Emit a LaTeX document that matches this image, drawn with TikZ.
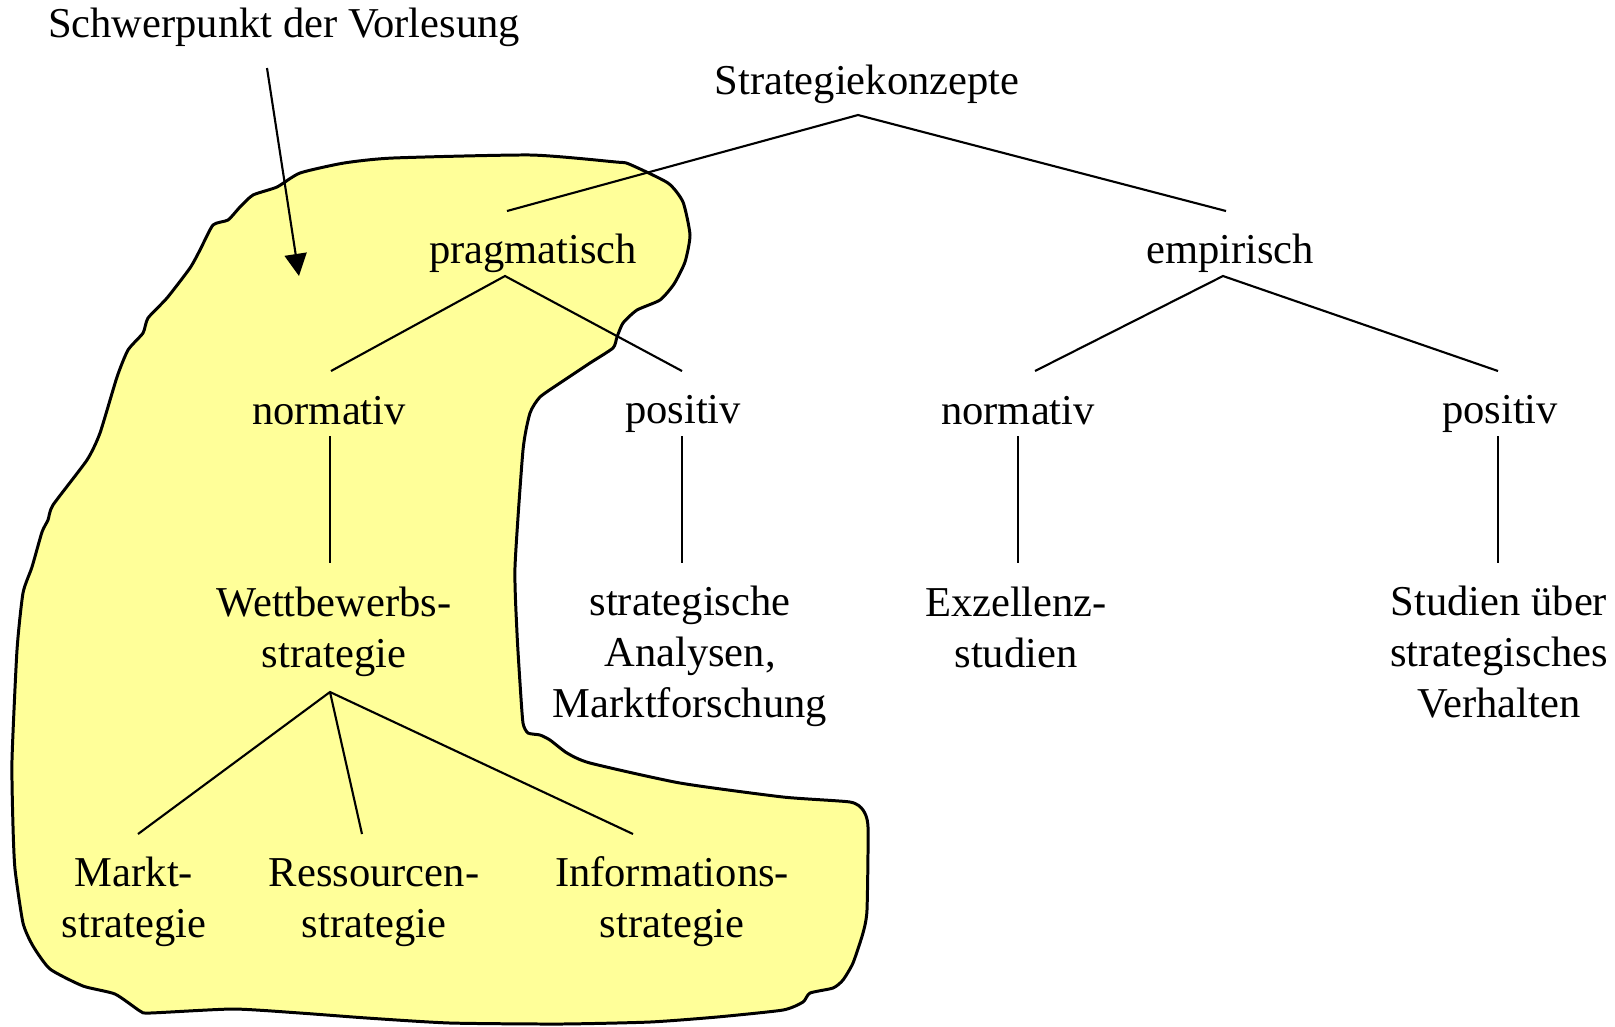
\documentclass[tikz,border=0pt]{standalone}
\usepackage{fontspec}
\setmainfont{Liberation Serif}
\usetikzlibrary{arrows.meta}
\definecolor{focusfill}{RGB}{255,255,153}
\begin{document}
\begin{tikzpicture}[x=0.01cm,y=-0.01cm,
  lbl/.style={inner sep=0pt, outer sep=0pt, anchor=base, align=center,
    font=\fontsize{12.1pt}{14.4pt}\selectfont},
  link/.style={line width=0.6pt},
  focus/.style={draw=black, line width=0.85pt, fill=focusfill, line join=round}]
\useasboundingbox (0,0) rectangle (1615,1026);

% highlighted area of the lecture
\draw[focus] plot[smooth cycle, tension=0.35] coordinates {
  (213,225) (228,220) (240,207) (253,195) (277,187) (300,173) (344,163)
  (393,158) (531,155) (616,162) (629,164) (668,183) (683,202) (690,235)
  (685,262) (674,284) (660,300) (637,310) (623,323) (617,337) (613,348)
  (590,363) (560,383) (540,397) (530,413) (523,450) (515,567) (517,633)
  (520,683) (523,723) (528,733) (540,735) (550,740) (567,753) (590,763)
  (680,783) (783,797) (850,802) (863,810) (868,827) (867,910) (863,933)
  (853,963) (843,980) (833,988) (810,993) (803,1002) (783,1010) (717,1017)
  (650,1022) (560,1024) (450,1023) (367,1018) (300,1013) (233,1009)
  (150,1013) (140,1011) (115,994) (83,986) (50,969) (33,946) (23,923)
  (15,869) (13,826) (12,760) (17,650) (23,593) (32,567) (42,532) (48,520)
  (53,505) (87,460) (100,433) (117,377) (128,350) (143,333) (148,318)
  (167,298) (190,268) (200,250)};

% labels (multi-line labels are anchored at the baseline of their last line)
\node[lbl] (focusnote) at (284,37)  {Schwerpunkt der Vorlesung};
\node[lbl] (root)  at (867,94)   {Strategiekonzepte};
\node[lbl] (prag)  at (533,263)  {pragmatisch};
\node[lbl] (emp)   at (1230,263) {empirisch};
\node[lbl] (pnorm) at (329,424)  {normativ};
\node[lbl] (ppos)  at (683,423)  {positiv};
\node[lbl] (enorm) at (1018,424) {normativ};
\node[lbl] (epos)  at (1500,423) {positiv};
\node[lbl] (wett)  at (334,667)  {Wettbewerbs-\\strategie};
\node[lbl] (anal)  at (690,717)  {strategische\\Analysen,\\Marktforschung};
\node[lbl] (exz)   at (1016,667) {Exzellenz-\\studien};
\node[lbl] (stud)  at (1499,717) {Studien über\\strategisches\\Verhalten};
\node[lbl] (markt) at (134,937)  {Markt-\\strategie};
\node[lbl] (ress)  at (374,937)  {Ressourcen-\\strategie};
\node[lbl] (info)  at (672,937)  {Informations-\\strategie};

% connector end points
\coordinate (root-s) at (858,115);
\coordinate (prag-n) at (507,211);
\coordinate (emp-n)  at (1226,211);
\coordinate (prag-s) at (505,276);
\coordinate (emp-s)  at (1223,276);
\coordinate (pnorm-n) at (331,371);
\coordinate (ppos-n)  at (682,371);
\coordinate (enorm-n) at (1035,371);
\coordinate (epos-n)  at (1498,371);
\coordinate (pnorm-s) at (330,436);
\coordinate (ppos-s)  at (682,436);
\coordinate (enorm-s) at (1018,436);
\coordinate (epos-s)  at (1498,436);
\coordinate (wett-n)  at (330,563);
\coordinate (anal-n)  at (682,563);
\coordinate (exz-n)   at (1018,563);
\coordinate (stud-n)  at (1498,563);
\coordinate (wett-s)  at (330,692);
\coordinate (markt-n) at (138,834);
\coordinate (ress-n)  at (362,834);
\coordinate (info-n)  at (633,834);
\coordinate (note-s)  at (267,68);
\coordinate (note-t)  at (299,276);

% tree connectors
\draw[link] (prag-n) -- (root-s) -- (emp-n);
\draw[link] (pnorm-n) -- (prag-s) -- (ppos-n);
\draw[link] (enorm-n) -- (emp-s) -- (epos-n);
\draw[link] (pnorm-s) -- (wett-n);
\draw[link] (ppos-s) -- (anal-n);
\draw[link] (enorm-s) -- (exz-n);
\draw[link] (epos-s) -- (stud-n);
\draw[link] (markt-n) -- (wett-s) -- (info-n);
\draw[link] (wett-s) -- (ress-n);

% pointer to the highlighted area
\draw[link, -{Triangle[length=6.3pt, width=6.3pt]}] (note-s) -- (note-t);
\end{tikzpicture}
\end{document}
